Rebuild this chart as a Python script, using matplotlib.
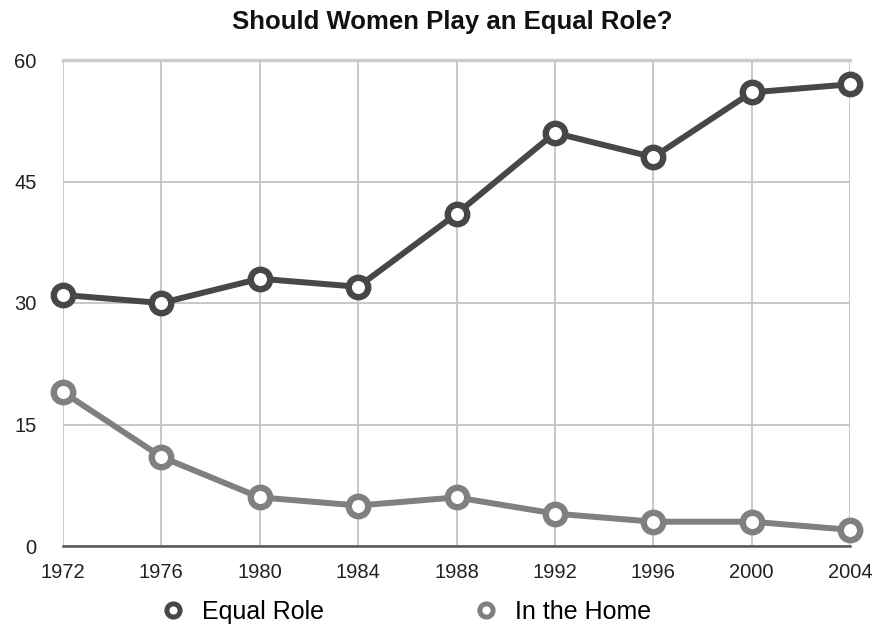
import matplotlib
matplotlib.use('Agg')
from matplotlib import pyplot as plt
from matplotlib.lines import Line2D

years = [1972, 1976, 1980, 1984, 1988, 1992, 1996, 2000, 2004]
equalRole = [31, 30, 33, 32, 41, 51, 48, 56, 57]
inTheHome = [19, 11, 6, 5, 6, 4, 3, 3, 2]
yticks = [0, 15, 30, 45, 60]

plt.rcParams['font.family'] = ['Liberation Sans', 'DejaVu Sans']

darkColor = '#474747'
lightColor = '#808080'
gridColor = '#c4c4c4'

fig = plt.figure(figsize=(8.76, 6.31), dpi=100)
ax = fig.add_axes([63/876, 1 - 546/631, (850-63)/876, (546-60)/631])

for vals, col in [(equalRole, darkColor), (inTheHome, lightColor)]:
    ax.plot(years, vals, color=col, linewidth=4.3, marker='o', markersize=14,
            markerfacecolor='white', markeredgecolor=col, markeredgewidth=4.6,
            zorder=3, clip_on=False)

ax.set_xlim(years[0], years[-1])
ax.set_ylim(0, 60)
ax.set_xticks(years)
ax.set_yticks(yticks)
ax.set_xticklabels([str(y) for y in years], fontsize=14.5, color='#222222')
ax.set_yticklabels([str(y) for y in yticks], fontsize=14.5, color='#222222')
ax.tick_params(length=0)
ax.tick_params(axis='x', pad=12)
ax.tick_params(axis='y', pad=19)

ax.grid(True, color=gridColor, linewidth=1.3, zorder=0)
for side in ['left', 'right', 'top']:
    ax.spines[side].set_visible(False)
ax.spines['bottom'].set_color('#555555')
ax.spines['bottom'].set_linewidth(1.8)
ax.spines['bottom'].set_zorder(2)
ax.axhline(60, color='#d0d0d0', linewidth=2.5, zorder=1, clip_on=False)

fig.text(452/876, 1 - 22/631, 'Should Women Play an Equal Role?', ha='center', va='center',
         fontsize=18.5, fontweight='bold', color='#111111')

handles = [
    Line2D([], [], linestyle='none', marker='o', markersize=9.5, markerfacecolor='white',
           markeredgecolor=darkColor, markeredgewidth=3.6),
    Line2D([], [], linestyle='none', marker='o', markersize=9.5, markerfacecolor='white',
           markeredgecolor=lightColor, markeredgewidth=3.6),
]
fig.legend(handles, ['Equal Role', 'In the Home'], loc='center', ncol=2,
           bbox_to_anchor=(406/876, 1 - 612/631), frameon=False, fontsize=18,
           handletextpad=0.66, columnspacing=6.0, handlelength=1.0)

fig.savefig('out.png', dpi=100)
